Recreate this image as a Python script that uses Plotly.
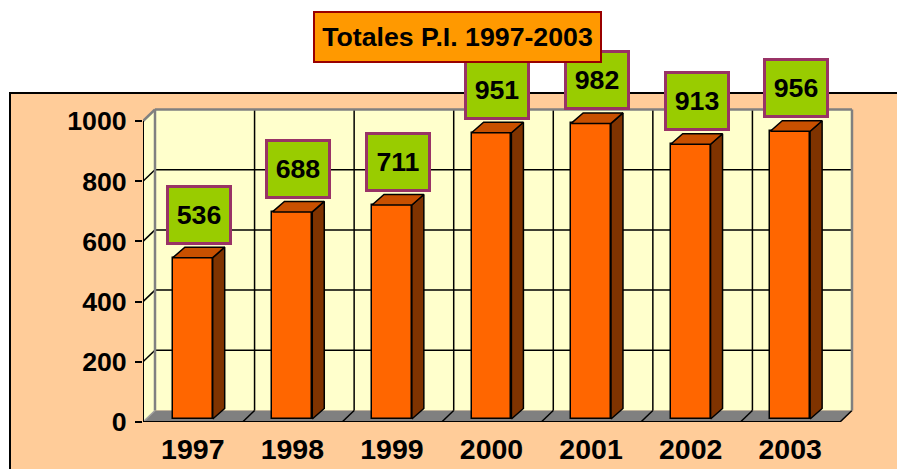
import plotly.graph_objects as go

# ---- data ----
YEARS = ["1997", "1998", "1999", "2000", "2001", "2002", "2003"]
VALUES = [536, 688, 711, 951, 982, 913, 956]
Y_TICKS = [0, 200, 400, 600, 800, 1000]
TITLE = "Totales P.I. 1997-2003"

# ---- geometry (pixels) ----
W, H = 897, 469
L, T, B = 143, 60, 47
PXU = 99.57           # px per category unit
PYU = 0.301           # px per value unit
PW = 717
PH = H - T - B
R = W - L - PW
XMIN = -0.5
XMAX = XMIN + PW / PXU
YMAX = PH / PYU
N = len(YEARS)
XEND = XMIN + N
TOP = Y_TICKS[-1]

DX = 12 / PXU          # wall depth
DY = 11.5 / PYU
BASE = 3 / PYU         # bar front face sits slightly behind the front plane
BW = 0.40              # bar width
BDX = 12 / PXU         # bar depth
BDY = 10.5 / PYU

FONT = "Arial, Liberation Sans, sans-serif"
FS = 26.7
FSX = 28.5

PEACH = "#FFCC99"
WALL = "#FFFFCC"
GRAY = "#808080"
ORANGE = "#FF6600"
SIDE = "#7F3300"
TOPC = "#C85000"
GREEN = "#99CC00"
PURPLE = "#993366"


def px_x(px):
    return (px - L) / PW


def px_y(py):
    return (H - B - py) / PH


def poly(pts):
    return "M " + " L ".join(f"{x},{y}" for x, y in pts) + " Z"


shapes = []
# outer peach panel
shapes.append(dict(type="rect", xref="paper", yref="paper", layer="below",
                   x0=px_x(10), x1=px_x(W + 20), y0=px_y(93), y1=px_y(H + 20),
                   fillcolor=PEACH, line=dict(color="black", width=2)))
# side wall
shapes.append(dict(type="path", layer="below", xref="x", yref="y",
                   path=poly([(XMIN, 0), (XMIN + DX, DY), (XMIN + DX, TOP + DY), (XMIN, TOP)]),
                   fillcolor=WALL, line=dict(width=0)))
# back wall
shapes.append(dict(type="rect", layer="below", xref="x", yref="y",
                   x0=XMIN + DX, x1=XEND + DX, y0=DY, y1=TOP + DY,
                   fillcolor=WALL, line=dict(width=0)))
# floor
shapes.append(dict(type="path", layer="below", xref="x", yref="y",
                   path=poly([(XMIN, 0), (XEND, 0), (XEND + DX, DY), (XMIN + DX, DY)]),
                   fillcolor=GRAY, line=dict(width=0)))


def seg(x0, y0, x1, y1, color="black", width=1.5):
    shapes.append(dict(type="line", layer="below", xref="x", yref="y",
                       x0=x0, y0=y0, x1=x1, y1=y1, line=dict(color=color, width=width)))


# gridlines on back wall and side wall
for v in Y_TICKS[1:-1]:
    seg(XMIN + DX, v + DY, XEND + DX, v + DY)
    seg(XMIN, v, XMIN + DX, v + DY)
# vertical category separators on back wall + floor diagonals
for k in range(1, N):
    b = XMIN + k
    seg(b + DX, DY, b + DX, TOP + DY)
    seg(b, 0, b + DX, DY)
seg(XEND, 0, XEND + DX, DY)
# gray edges of walls
seg(XMIN + DX, DY, XMIN + DX, TOP + DY, GRAY, 2.5)
seg(XEND + DX, DY, XEND + DX, TOP + DY, GRAY, 2.5)
seg(XMIN + DX, TOP + DY, XEND + DX, TOP + DY, GRAY, 2.5)
seg(XMIN, TOP, XMIN + DX, TOP + DY, GRAY, 2.5)
seg(XMIN, 0, XMIN + DX, DY, "#A0A0A0", 1.5)
# front axes lines
seg(XMIN, 0, XMIN, TOP, "black", 2)
seg(XMIN, 0, XEND, 0, "black", 2)
# downward ticks at category boundaries
for k in range(N + 1):
    shapes.append(dict(type="line", xref="x", yref="y", ysizemode="pixel", yanchor=0,
                       x0=XMIN + k, x1=XMIN + k, y0=0, y1=-7, layer="below",
                       line=dict(color="black", width=2)))

fig = go.Figure()
xs = list(range(N))

# bar front faces
fig.add_trace(go.Bar(x=xs, y=VALUES, base=BASE, width=BW,
                     marker=dict(color=ORANGE, line=dict(color="black", width=1.5)),
                     hoverinfo="skip", showlegend=False))

# side and top faces
for i, v in enumerate(VALUES):
    xr = i + BW / 2
    xl = i - BW / 2
    yt = v + BASE
    fig.add_trace(go.Scatter(
        x=[xr, xr + BDX, xr + BDX, xr, xr],
        y=[BASE, BASE + BDY, yt + BDY, yt, BASE],
        fill="toself", fillcolor=SIDE, mode="lines",
        line=dict(color="black", width=1.5), hoverinfo="skip", showlegend=False))
    fig.add_trace(go.Scatter(
        x=[xl, xr, xr + BDX, xl + BDX, xl],
        y=[yt, yt, yt + BDY, yt + BDY, yt],
        fill="toself", fillcolor=TOPC, mode="lines",
        line=dict(color="black", width=1.5), hoverinfo="skip", showlegend=False))

annotations = []
for i, v in enumerate(VALUES):
    annotations.append(dict(
        x=i + 0.06, y=v + BASE, xref="x", yref="y", yshift=43,
        xanchor="center", yanchor="middle", showarrow=False,
        text=str(v), font=dict(family=FONT, size=FS, color="black", weight="bold"),
        bgcolor=GREEN, bordercolor=PURPLE, borderwidth=3, borderpad=1,
        width=58, height=52, align="center", valign="middle"))

annotations.append(dict(
    x=px_x(457.5), y=px_y(37), xref="paper", yref="paper",
    xanchor="center", yanchor="middle", showarrow=False,
    text=TITLE, font=dict(family=FONT, size=FS, color="black", weight="bold"),
    bgcolor="#FF9900", bordercolor="#990000", borderwidth=2, borderpad=3,
    width=279, height=42, align="center", valign="middle"))

fig.update_layout(
    width=W, height=H, autosize=False,
    margin=dict(l=L, r=R, t=T, b=B, pad=0, autoexpand=False),
    paper_bgcolor="white", plot_bgcolor="rgba(0,0,0,0)",
    shapes=shapes, annotations=annotations, bargap=0,
    xaxis=dict(range=[XMIN, XMAX], tickvals=xs, ticktext=YEARS, ticks="",
               showgrid=False, zeroline=False, showline=False, fixedrange=True,
               automargin=False, ticklabelstandoff=7,
               tickfont=dict(family=FONT, size=FSX, color="black", weight="bold")),
    yaxis=dict(range=[0, YMAX], tickvals=Y_TICKS, ticks="outside", ticklen=7,
               tickwidth=2, tickcolor="black",
               showgrid=False, zeroline=False, showline=False, fixedrange=True,
               automargin=False, ticklabelstandoff=3,
               tickfont=dict(family=FONT, size=FS, color="black", weight="bold")),
)

fig.write_html("out.html", config={"displayModeBar": False},
               post_script="document.body.style.margin='0';document.body.style.overflow='hidden';")
